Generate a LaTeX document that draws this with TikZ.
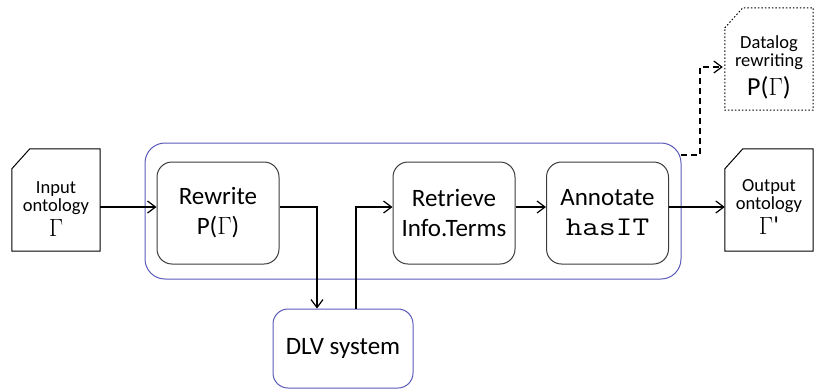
\documentclass[tikz,border=0pt]{standalone}
\usepackage{fontspec}
\setmainfont{Carlito}
\usetikzlibrary{arrows.meta}
\definecolor{frameblue}{RGB}{90,90,185}
\definecolor{boxgray}{RGB}{60,60,60}
\newcommand{\biggam}[1]{{\fontsize{26}{26}\selectfont #1}}
\begin{document}
\begin{tikzpicture}[x=1pt,y=-1pt,
  big/.style={font=\fontsize{25}{30}\selectfont, align=center},
  small/.style={font=\fontsize{18.5}{18}\selectfont, align=center},
  stepbox/.style={draw=boxgray, line width=1pt, rounded corners=15pt,
    minimum width=122pt, minimum height=102pt, inner sep=0pt},
  docarea/.style={minimum width=88pt, minimum height=102pt, inner sep=0pt},
  flow/.style={line width=1.2pt, -{Straight Barb[length=8pt,width=12pt]}}
]
\useasboundingbox (0,0) rectangle (814,389);

% grouping frame around the processing steps
\draw[frameblue, line width=1pt, rounded corners=20pt] (145,143) rectangle (681,279);

% documents
\node[docarea] (input) at (56,200) {};
\node[docarea] (output) at (769,200) {};
\node[docarea] (datalog) at (769,59) {};
\foreach \d in {input,output} {
  \draw[line width=1pt] ([yshift=-20pt]\d.north west) -- ([xshift=18pt]\d.north west)
    -- (\d.north east) -- (\d.south east) -- (\d.south west) -- cycle;
}
\draw[line width=1pt, dash pattern=on 1.5pt off 2pt] ([yshift=-20pt]datalog.north west) -- ([xshift=18pt]datalog.north west)
    -- (datalog.north east) -- (datalog.south east) -- (datalog.south west) -- cycle;

\node[small] (inputtext) at (56,209) {Input\\ontology\\[4pt]\biggam{$\Gamma$}};
\node[small] (outputtext) at (769,207) {Output\\ontology\\[4pt]\biggam{$\Gamma$\textquotesingle}};
\node[small] (datalogtext) at (769,67) {Datalog\\rewriting\\[6pt]\biggam{P($\Gamma$)}};

% processing steps
\node[stepbox, big] (rewrite) at (218,213) {Rewrite\\P($\Gamma$)};
\node[stepbox, big] (retrieve) at (454,213) {Retrieve\\Info.Terms};
\node[stepbox, big] (annotate) at (607.5,213) {Annotate\\\scalebox{1.2}[1]{\fontsize{27}{29}\selectfont\ttfamily hasIT}};
\node[draw=frameblue, line width=1pt, rounded corners=15pt, minimum width=140pt,
  minimum height=79pt, inner sep=0pt, big] (dlv) at (343,348.5) {\raisebox{-3pt}{DLV system}};

% connectors
\coordinate (lvl) at (0,207);
\coordinate (down) at (317,0);
\coordinate (up) at (356,0);
\coordinate (frameout) at (681,155);
\coordinate (bend) at (700,0);
\draw[flow] (input.east |- lvl) -- (rewrite.west |- lvl);
\draw[flow] (rewrite.east |- lvl) -| (down |- dlv.north);
\draw[flow] (up |- dlv.north) |- (retrieve.west |- lvl);
\draw[flow] (retrieve.east |- lvl) -- (annotate.west |- lvl);
\draw[flow] (annotate.east |- lvl) -- (output.west |- lvl);
\draw[flow, dash pattern=on 6pt off 4pt] (frameout) -| (bend |- datalogtext) -- ([xshift=-2pt]datalog.west |- datalogtext);
\end{tikzpicture}
\end{document}
